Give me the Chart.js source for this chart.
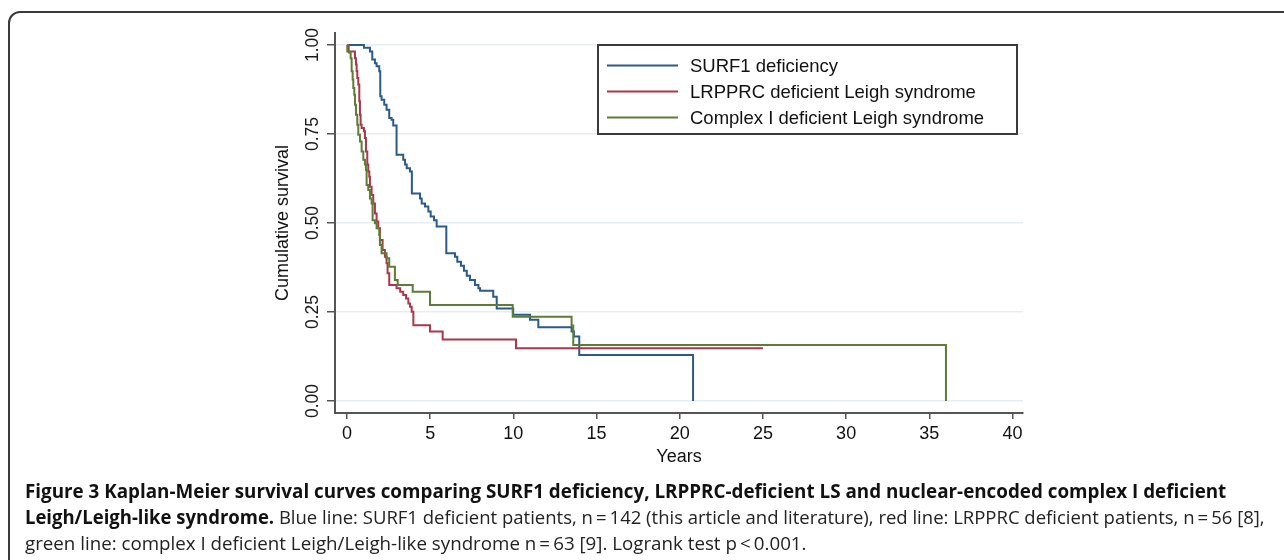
<!DOCTYPE html>
<html>
<head>
<meta charset="utf-8">
<script src="https://cdn.jsdelivr.net/npm/chart.js@4.4.1/dist/chart.umd.min.js"></script>
<style>
  html, body { margin: 0; padding: 0; background: #fff; }
  #wrap { position: relative; width: 1284px; height: 560px; overflow: hidden; }
  #frame { position: absolute; left: 8px; top: 11px; width: 1320px; height: 620px;
           border: 2px solid #3a3a3a; border-radius: 12px; box-sizing: border-box; }
  #km { position: absolute; left: 0; top: 0; }
  .cap { position: absolute; left: 25px; white-space: nowrap; font-family: 'Open Sans', sans-serif;
         font-size: 19px; line-height: 24px; color: #222; transform-origin: 0 50%; }
  .cap b { font-weight: 700; color: #111; }
</style>
</head>
<body>
<div id="wrap">
  <div id="frame"></div>
  <canvas id="km" width="1284" height="560"></canvas>
  <div class="cap" style="top:479px" data-w="1201"><b>Figure 3 Kaplan-Meier survival curves comparing SURF1 deficiency, LRPPRC-deficient LS and nuclear-encoded complex I deficient</b></div>
  <div class="cap" style="top:505px" data-w="1240"><b>Leigh/Leigh-like syndrome.</b> Blue line: SURF1 deficient patients, n&#8201;=&#8201;142 (this article and literature), red line: LRPPRC deficient patients, n&#8201;=&#8201;56 [8],</div>
  <div class="cap" style="top:531px" data-w="782">green line: complex I deficient Leigh/Leigh-like syndrome n&#8201;=&#8201;63 [9]. Logrank test p&#8201;&lt;&#8201;0.001.</div>
</div>
<script>
// Kaplan-Meier steps: time (years) where survival drops, survival after the drop
const surfTime = [0, 1.02, 1.38, 1.52, 1.68, 1.78, 1.94, 2.0, 2.08, 2.24, 2.38, 2.54, 2.68, 2.78, 2.98, 3.38, 3.49, 3.59, 3.79, 3.9,
  4.39, 4.49, 4.69, 4.89, 5.03, 5.23, 5.39, 5.97, 6.49, 6.63, 6.85, 7.03, 7.2, 7.39, 7.69, 7.9, 8.0, 8.79, 9.0, 9.99,
  11.0, 11.5, 13.5, 13.64, 13.96, 20.8];
const surfSurv = [1.0, 0.992, 0.982, 0.959, 0.949, 0.94, 0.926, 0.856, 0.846, 0.832, 0.818, 0.795, 0.79, 0.774, 0.692, 0.678, 0.664, 0.654, 0.645, 0.583,
  0.569, 0.555, 0.546, 0.532, 0.518, 0.508, 0.49, 0.415, 0.405, 0.391, 0.38, 0.366, 0.352, 0.34, 0.326, 0.317, 0.31, 0.293, 0.26, 0.242,
  0.228, 0.207, 0.195, 0.181, 0.129, 0];

const lrpTime = [0, 0.1, 0.48, 0.54, 0.58, 0.62, 0.68, 0.74, 0.78, 0.82, 0.88, 1.02, 1.08, 1.14, 1.22, 1.28, 1.34, 1.38, 1.48, 1.58,
  1.68, 1.78, 1.88, 1.98, 2.14, 2.28, 2.38, 2.44, 2.54, 2.98, 3.2, 3.38, 3.55, 3.69, 3.79, 3.89, 3.99, 4.99, 5.75, 10.16, 25];
const lrpSurv = [1.0, 0.982, 0.963, 0.945, 0.927, 0.907, 0.889, 0.842, 0.804, 0.776, 0.767, 0.758, 0.739, 0.701, 0.664, 0.645, 0.63, 0.602, 0.579, 0.555,
  0.527, 0.504, 0.485, 0.452, 0.424, 0.405, 0.387, 0.359, 0.326, 0.317, 0.307, 0.298, 0.288, 0.274, 0.265, 0.251, 0.213, 0.195, 0.173, 0.148, 0.148];

const ciTime = [0, 0.02, 0.14, 0.22, 0.28, 0.34, 0.38, 0.44, 0.48, 0.54, 0.62, 0.68, 0.78, 0.88, 0.98, 1.08, 1.14, 1.18, 1.28, 1.38,
  1.48, 1.54, 1.68, 1.78, 1.94, 1.98, 2.08, 2.38, 2.54, 2.88, 3.05, 3.95, 4.99, 9.96, 13.5, 13.6, 36];
const ciSurv = [1.0, 0.982, 0.978, 0.963, 0.926, 0.903, 0.879, 0.86, 0.832, 0.804, 0.776, 0.748, 0.729, 0.701, 0.678, 0.664, 0.649, 0.607, 0.593, 0.569,
  0.555, 0.508, 0.499, 0.485, 0.466, 0.438, 0.415, 0.401, 0.377, 0.34, 0.326, 0.307, 0.27, 0.237, 0.212, 0.157, 0];

const seriesNames = ['SURF1 deficiency', 'LRPPRC deficient Leigh syndrome', 'Complex I deficient Leigh syndrome'];
const seriesColors = ['#2b5b87', '#a9384c', '#5c7d35'];

const xTicks = [0, 5, 10, 15, 20, 25, 30, 35, 40];
const yTicks = [0, 0.25, 0.5, 0.75, 1];
const yTickLabels = ['0.00', '0.25', '0.50', '0.75', '1.00'];

const FONT = "'Liberation Sans', Arial, Helvetica, sans-serif";
Chart.defaults.font.family = FONT;

function toPoints(times, surv) {
  return times.map((t, i) => ({ x: t, y: surv[i] }));
}

// y tick labels are rotated like the Stata original
const yLabelPlugin = {
  id: 'yLabels',
  afterDraw(chart) {
    const ctx = chart.ctx;
    const y = chart.scales.y;
    ctx.save();
    ctx.font = '17.5px ' + FONT;
    ctx.fillStyle = '#1a1a1a';
    ctx.textAlign = 'center';
    ctx.textBaseline = 'middle';
    yTicks.forEach((v, i) => {
      ctx.save();
      ctx.translate(y.right - 22, y.getPixelForValue(v));
      ctx.rotate(-Math.PI / 2);
      ctx.fillText(yTickLabels[i], 0, 0);
      ctx.restore();
    });
    ctx.restore();
  }
};

// boxed legend inside the plot, top right
const boxLegend = {
  id: 'boxLegend',
  afterDraw(chart) {
    const ctx = chart.ctx;
    const left = 598, top = 45, w = 419, h = 89;
    ctx.save();
    ctx.fillStyle = '#fff';
    ctx.fillRect(left, top, w, h);
    ctx.strokeStyle = '#3a3a3a';
    ctx.lineWidth = 2;
    ctx.strokeRect(left, top, w, h);
    ctx.font = '18.5px ' + FONT;
    ctx.textBaseline = 'middle';
    ctx.textAlign = 'left';
    chart.data.datasets.forEach((ds, i) => {
      const rowY = top + 20.5 + i * 26;
      ctx.strokeStyle = ds.borderColor;
      ctx.lineWidth = 2;
      ctx.beginPath();
      ctx.moveTo(left + 9, rowY);
      ctx.lineTo(left + 80, rowY);
      ctx.stroke();
      ctx.fillStyle = '#111';
      ctx.fillText(ds.label, left + 92, rowY + 1);
    });
    ctx.restore();
  }
};

const datasets = [
  { label: seriesNames[0], data: toPoints(surfTime, surfSurv), borderColor: seriesColors[0], order: 3 },
  { label: seriesNames[1], data: toPoints(lrpTime, lrpSurv), borderColor: seriesColors[1], order: 2 },
  { label: seriesNames[2], data: toPoints(ciTime, ciSurv), borderColor: seriesColors[2], order: 1 }
].map(d => Object.assign(d, { stepped: 'before', borderWidth: 2, pointRadius: 0, fill: false, tension: 0 }));

new Chart(document.getElementById('km'), {
  type: 'line',
  data: { datasets },
  options: {
    responsive: false,
    animation: false,
    layout: { padding: { left: 272, right: 261, top: 33, bottom: 92 } },
    plugins: { legend: { display: false }, tooltip: { enabled: false } },
    scales: {
      x: {
        type: 'linear',
        min: -0.72,
        max: 40.63,
        afterBuildTicks: s => { s.ticks = xTicks.map(v => ({ value: v })); },
        afterFit: s => { s.height = 55; },
        ticks: { font: { size: 18 }, color: '#111', padding: 4, maxRotation: 0, autoSkip: false },
        grid: { drawOnChartArea: false, drawTicks: true, tickLength: 6, color: '#555', lineWidth: 1.5 },
        border: { display: true, color: '#555', width: 2 },
        title: { display: true, text: 'Years', font: { size: 18 }, color: '#111', padding: 0 }
      },
      y: {
        min: -0.0337,
        max: 1.0337,
        afterBuildTicks: s => { s.ticks = yTicks.map(v => ({ value: v })); },
        afterFit: s => { s.width = 63; },
        ticks: { display: false },
        grid: { drawOnChartArea: true, drawTicks: true, tickLength: 8, color: '#e7eef3', tickColor: '#555', lineWidth: 1.5 },
        border: { display: true, color: '#555', width: 2 },
        title: { display: true, text: 'Cumulative survival', font: { size: 18 }, color: '#111', padding: 0 }
      }
    }
  },
  plugins: [yLabelPlugin, boxLegend]
});

// squeeze caption lines to the width they have in the journal layout
function fitCaptions() {
  document.querySelectorAll('.cap').forEach(el => {
    el.style.transform = 'none';
    const target = +el.dataset.w;
    el.style.transform = 'scaleX(' + (target / el.scrollWidth) + ')';
  });
}
fitCaptions();
if (document.fonts) document.fonts.ready.then(fitCaptions);
</script>
</body>
</html>
